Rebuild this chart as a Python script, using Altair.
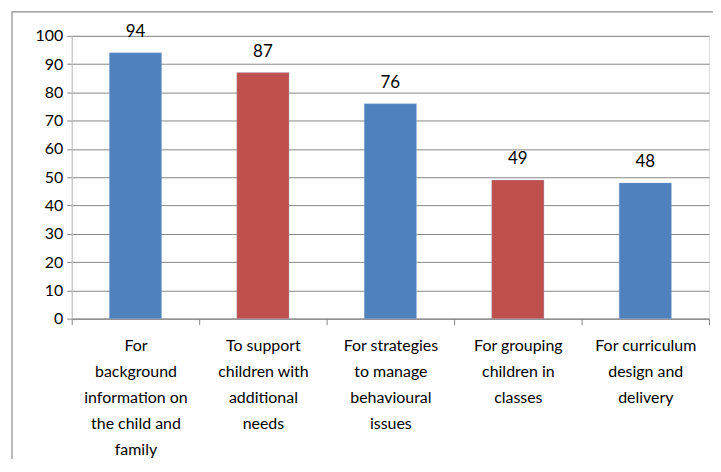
import altair as alt
import pandas as pd

categories = [
    "For\nbackground\ninformation on\nthe child and\nfamily",
    "To support\nchildren with\nadditional\nneeds",
    "For strategies\nto manage\nbehavioural\nissues",
    "For grouping\nchildren in\nclasses",
    "For curriculum\ndesign and\ndelivery",
]
values = [94, 87, 76, 49, 48]
colors = ["#4F81BD", "#C0504D", "#4F81BD", "#C0504D", "#4F81BD"]

df = pd.DataFrame({"cat": categories, "val": values, "color": colors})

FONT = "Lato"

base = alt.Chart(df)

x = alt.X(
    "cat:N",
    sort=None,
    title=None,
    scale=alt.Scale(paddingInner=0, paddingOuter=0),
    axis=alt.Axis(
        labelAngle=0,
        labelExpr="split(datum.label, '\\n')",
        labelFont=FONT,
        labelFontSize=16,
        labelLineHeight=26,
        labelColor="#000000",
        labelPadding=13,
        labelLimit=200,
        tickBand="extent",
        tickSize=6,
        tickColor="#868686",
        domainColor="#868686",
        labelBaseline="top",
    ),
)

y = alt.Y(
    "val:Q",
    title=None,
    scale=alt.Scale(domain=[0, 100]),
    axis=alt.Axis(
        values=list(range(0, 101, 10)),
        labelOverlap=False,
        labelFont=FONT,
        labelFontSize=16,
        labelColor="#000000",
        labelPadding=4,
        tickSize=5,
        tickColor="#868686",
        domainColor="#BFBFBF",
        gridColor="#868686",
        gridWidth=1,
    ),
)

bars = base.mark_bar(
    width=alt.RelativeBandSize(0.41),
    stroke="#9DB7DD", strokeWidth=0.6, strokeOpacity=0.6,
).encode(
    x=x,
    y=y,
    color=alt.Color("color:N", scale=None, legend=None),
)

labels = base.mark_text(
    baseline="bottom", dy=-12, font=FONT, fontSize=17, color="#000000"
).encode(x=x, y=y, text="val:Q")

border = alt.Chart(pd.DataFrame({"a": [0]})).mark_rect(
    fill=None, stroke="#8C8C8C", strokeWidth=1.2
).encode(
    x=alt.value(-60), x2=alt.value(646), y=alt.value(-24), y2=alt.value(440)
)

chart = (
    alt.layer(bars, labels, border)
    .properties(
        width=640,
        height=284,
        autosize=alt.AutoSizeParams(type="none"),
        padding={"left": 64, "top": 27, "right": 4, "bottom": 140},
    )
    .configure_view(stroke=None, clip=False)
    .configure(background="#FFFFFF")
)

chart.save("out.html", embed_options={"renderer": "svg", "actions": False})
